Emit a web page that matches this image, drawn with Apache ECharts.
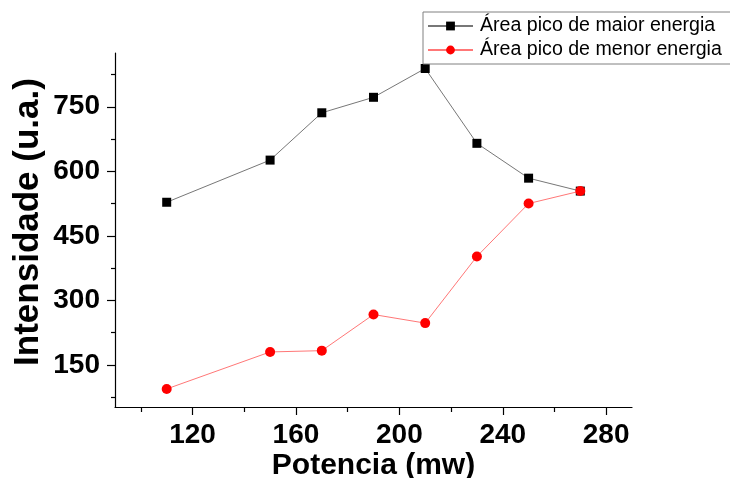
<!DOCTYPE html>
<html>
<head>
<meta charset="utf-8">
<script src="https://cdn.jsdelivr.net/npm/echarts@6/dist/echarts.min.js"></script>
<style>
  html, body { margin: 0; padding: 0; background: #fff; }
  #chart { width: 730px; height: 478px; }
</style>
</head>
<body>
<div id="chart"></div>
<script>
// Laser power (mW) and integrated peak areas
const potencia = [110, 150, 170, 190, 210, 230, 250, 270];
const areaMaior = [528, 626, 736, 772, 839, 665, 584, 554];
const areaMenor = [94, 180, 183, 267, 247, 402, 525, 554];

const xMajorTicks = [120, 160, 200, 240, 280];
const xMinorTicks = [100, 140, 180, 220, 260];
const yMajorTicks = [150, 300, 450, 600, 750];
const yMinorTicks = [75, 225, 375, 525, 675, 825];

const nomeMaior = 'Área pico de maior energia';
const nomeMenor = 'Área pico de menor energia';

const FONT = '"Liberation Sans", Arial, sans-serif';
const X_RANGE = { min: 90, max: 290 };
const Y_RANGE = { min: 52, max: 875 };

const pairs = (xs, ys) => xs.map((x, i) => [x, ys[i]]);

const chart = echarts.init(document.getElementById('chart'), null, { renderer: 'canvas' });

chart.setOption({
  animation: false,
  backgroundColor: '#ffffff',
  grid: { left: 115, right: 98, top: 53, bottom: 71, outerBoundsMode: 'none', containLabel: false },
  legend: {
    left: 423, top: 12,
    orient: 'vertical',
    itemWidth: 45, itemHeight: 11, itemGap: 4,
    padding: [4, 40, 4, 4],
    borderColor: '#808080', borderWidth: 1,
    textStyle: { fontFamily: FONT, fontSize: 19.6, color: '#000', padding: [0, 0, 0, 2] },
    data: [nomeMaior, nomeMenor]
  },
  xAxis: [
    {
      type: 'value', ...X_RANGE,
      name: 'Potencia (mw)', nameLocation: 'middle', nameGap: 44, nameMoveOverlap: false,
      nameTextStyle: { fontFamily: FONT, fontWeight: 'bold', fontSize: 30, color: '#000' },
      axisLine: { show: true, lineStyle: { color: '#000', width: 1.2 } },
      axisTick: { show: true, length: 8, lineStyle: { color: '#000', width: 1.2 }, customValues: xMajorTicks },
      axisLabel: { fontFamily: FONT, fontWeight: 'bold', fontSize: 28, color: '#000', margin: 14, customValues: xMajorTicks },
      splitLine: { show: false }
    },
    {
      type: 'value', ...X_RANGE, position: 'bottom',
      axisLine: { show: false },
      axisTick: { show: true, length: 5, lineStyle: { color: '#000', width: 1.2 }, customValues: xMinorTicks },
      axisLabel: { show: false },
      splitLine: { show: false }
    }
  ],
  yAxis: [
    {
      type: 'value', ...Y_RANGE,
      name: 'Intensidade (u.a.)', nameLocation: 'middle', nameGap: 69, nameRotate: 90, nameMoveOverlap: false,
      nameTextStyle: { fontFamily: FONT, fontWeight: 'bold', fontSize: 35, color: '#000', padding: [0, 0, 0, 16] },
      axisLine: { show: true, lineStyle: { color: '#000', width: 1.2 } },
      axisTick: { show: true, length: 8, lineStyle: { color: '#000', width: 1.2 }, customValues: yMajorTicks },
      axisLabel: { fontFamily: FONT, fontWeight: 'bold', fontSize: 28, color: '#000', margin: 15, customValues: yMajorTicks },
      splitLine: { show: false }
    },
    {
      type: 'value', ...Y_RANGE, position: 'left',
      axisLine: { show: false },
      axisTick: { show: true, length: 4, lineStyle: { color: '#000', width: 1.2 }, customValues: yMinorTicks },
      axisLabel: { show: false },
      splitLine: { show: false }
    }
  ],
  series: [
    {
      name: nomeMaior, type: 'line',
      xAxisIndex: 0, yAxisIndex: 0,
      data: pairs(potencia, areaMaior),
      symbol: 'rect', symbolSize: 9,
      itemStyle: { color: '#000' },
      lineStyle: { color: '#777', width: 1 },
      z: 2
    },
    {
      name: nomeMenor, type: 'line',
      xAxisIndex: 0, yAxisIndex: 0,
      data: pairs(potencia, areaMenor),
      symbol: 'circle', symbolSize: 10,
      itemStyle: { color: '#ff0000' },
      lineStyle: { color: '#ff7777', width: 1 },
      z: 3
    }
  ]
});
</script>
</body>
</html>
